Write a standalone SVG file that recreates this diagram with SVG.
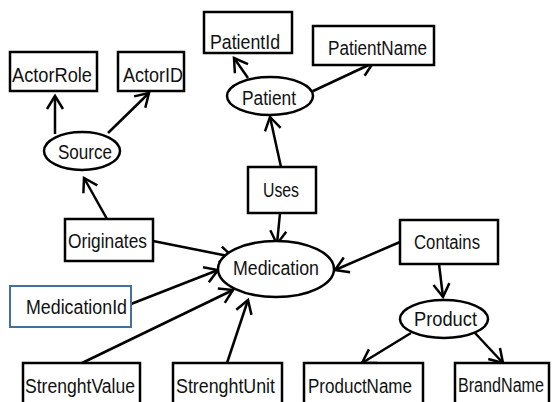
<svg xmlns="http://www.w3.org/2000/svg" width="552" height="402" viewBox="0 0 552 402">
<style>
.box{fill:#fff;stroke:#000;stroke-width:2.5}
.ell{fill:#fff;stroke:#000;stroke-width:2.5}
.lbl{font-family:"Liberation Sans",Arial,sans-serif;font-size:20px;fill:#111}
.cn line{stroke:#000;stroke-width:2.5;marker-end:url(#arr)}
</style>
<defs>
<marker id="arr" markerUnits="userSpaceOnUse" markerWidth="30" markerHeight="30" refX="0" refY="0" viewBox="-15 -15 30 30" orient="auto" overflow="visible">
<path d="M-13,-8 L0,0 L-13,8" fill="none" stroke="#000" stroke-width="2.5"/>
</marker>
</defs>
<rect width="552" height="402" fill="#fff"/>
<g id="connectors" class="cn">
<line x1="55" y1="134" x2="55" y2="96"/>
<line x1="108" y1="133" x2="149" y2="93"/>
<line x1="248" y1="78" x2="234" y2="58"/>
<line x1="311" y1="92" x2="373" y2="63"/>
<line x1="281" y1="167" x2="270" y2="117"/>
<line x1="107" y1="219" x2="84" y2="178"/>
<line x1="153" y1="241" x2="233" y2="257"/>
<line x1="131" y1="304" x2="218" y2="270"/>
<line x1="82" y1="363" x2="233" y2="290"/>
<line x1="227" y1="363" x2="248" y2="300"/>
<line x1="280" y1="213" x2="277" y2="244"/>
<line x1="400" y1="242" x2="335" y2="270"/>
<line x1="439" y1="264" x2="443" y2="297"/>
<line x1="411" y1="333" x2="362" y2="363"/>
<line x1="475" y1="333" x2="503" y2="363"/>
</g>
<g id="ActorRole"><rect class="box" x="10" y="52" width="87" height="39"/><text class="lbl" x="12" y="82" textLength="80" lengthAdjust="spacingAndGlyphs">ActorRole</text></g>
<g id="ActorID"><rect class="box" x="118" y="52" width="66" height="39"/><text class="lbl" x="123" y="82" textLength="60" lengthAdjust="spacingAndGlyphs">ActorID</text></g>
<g id="PatientId"><rect class="box" x="204" y="12" width="88" height="41"/><text class="lbl" x="210" y="49" textLength="70" lengthAdjust="spacingAndGlyphs">PatientId</text></g>
<g id="PatientName"><rect class="box" x="313" y="26" width="121" height="39"/><text class="lbl" x="328" y="55" textLength="99" lengthAdjust="spacingAndGlyphs">PatientName</text></g>
<g id="Source"><ellipse class="ell" cx="82" cy="151" rx="38" ry="19"/><text class="lbl" x="58" y="159" textLength="54" lengthAdjust="spacingAndGlyphs">Source</text></g>
<g id="Patient"><ellipse class="ell" cx="270" cy="96" rx="43" ry="19"/><text class="lbl" x="242" y="105" textLength="54" lengthAdjust="spacingAndGlyphs">Patient</text></g>
<g id="Uses"><rect class="box" x="248" y="167" width="68" height="46"/><text class="lbl" x="263" y="197" textLength="36" lengthAdjust="spacingAndGlyphs">Uses</text></g>
<g id="Originates"><rect class="box" x="65" y="219" width="88" height="42"/><text class="lbl" x="68" y="248" textLength="79" lengthAdjust="spacingAndGlyphs">Originates</text></g>
<g id="Medication"><ellipse class="ell" cx="276" cy="269" rx="58" ry="28"/><text class="lbl" x="233" y="275" textLength="86" lengthAdjust="spacingAndGlyphs">Medication</text></g>
<g id="MedicationId"><rect x="10" y="286" width="121" height="41" fill="#fff" stroke="#41719c" stroke-width="2"/><text class="lbl" x="26" y="314" textLength="101" lengthAdjust="spacingAndGlyphs">MedicationId</text></g>
<g id="Contains"><rect class="box" x="400" y="220" width="98" height="44"/><text class="lbl" x="414" y="249" textLength="66" lengthAdjust="spacingAndGlyphs">Contains</text></g>
<g id="Product"><ellipse class="ell" cx="444" cy="319" rx="44" ry="19"/><text class="lbl" x="414" y="326" textLength="63" lengthAdjust="spacingAndGlyphs">Product</text></g>
<g id="StrenghtValue"><rect class="box" x="23" y="363" width="117" height="50"/><text class="lbl" x="25" y="393" textLength="110" lengthAdjust="spacingAndGlyphs">StrenghtValue</text></g>
<g id="StrenghtUnit"><rect class="box" x="173" y="363" width="109" height="50"/><text class="lbl" x="176" y="393" textLength="99" lengthAdjust="spacingAndGlyphs">StrenghtUnit</text></g>
<g id="ProductName"><rect class="box" x="304" y="363" width="119" height="50"/><text class="lbl" x="308" y="393" textLength="104" lengthAdjust="spacingAndGlyphs">ProductName</text></g>
<g id="BrandName"><rect class="box" x="455" y="363" width="94" height="50"/><text class="lbl" x="458" y="392" textLength="86" lengthAdjust="spacingAndGlyphs">BrandName</text></g>
</svg>
